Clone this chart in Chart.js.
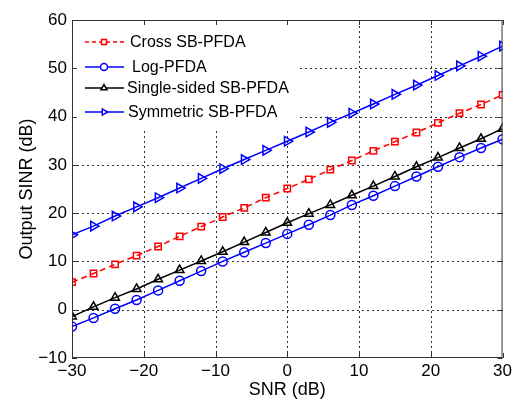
<!DOCTYPE html>
<html>
<head>
<meta charset="utf-8">
<script src="https://cdn.jsdelivr.net/npm/chart.js@4"></script>
<style>
  body { margin: 0; background: #fff; }
  canvas { display: block; }
</style>
</head>
<body>
<canvas id="sinrChart" width="515" height="401"></canvas>
<script>
// SNR values (dB), one marker every 3 dB
const snr = [-30, -27, -24, -21, -18, -15, -12, -9, -6, -3, 0, 3, 6, 9, 12, 15, 18, 21, 24, 27, 30];

const crossSB = [5.7, 7.5, 9.4, 11.2, 13.1, 15.2, 17.2, 19.2, 21.1, 23.2, 25.1, 27.0, 29.0, 30.9, 32.9, 34.8, 36.7, 38.7, 40.7, 42.5, 44.5];
const logPFDA = [-3.5, -1.7, 0.2, 2.0, 4.0, 6.0, 8.0, 10.0, 11.9, 13.8, 15.7, 17.6, 19.6, 21.7, 23.6, 25.6, 27.6, 29.6, 31.6, 33.5, 35.3];
const singleSB = [-1.4, 0.6, 2.5, 4.3, 6.3, 8.2, 10.1, 12.0, 14.0, 16.0, 18.0, 19.9, 21.7, 23.7, 25.6, 27.6, 29.6, 31.5, 33.5, 35.4, 37.5];
const symmetricSB = [15.5, 17.3, 19.4, 21.3, 23.2, 25.2, 27.2, 29.2, 31.1, 33.0, 34.9, 36.8, 38.8, 40.7, 42.6, 44.6, 46.5, 48.5, 50.5, 52.5, 54.6];

const xTicks = [-30, -20, -10, 0, 10, 20, 30];
const yTicks = [-10, 0, 10, 20, 30, 40, 50, 60];

const FONT = '"Liberation Sans", Arial, sans-serif';

function toPoints(ys) {
  return ys.map((y, i) => ({ x: snr[i], y }));
}

const series = [
  { label: 'Cross SB-PFDA', data: crossSB, color: '#ff0000', style: 'rect', rot: 0, dash: [6, 4], r: 4.5 },
  { label: 'Log-PFDA', data: logPFDA, color: '#0000ff', style: 'circle', rot: 0, dash: [], r: 4.5 },
  { label: 'Single-sided SB-PFDA', data: singleSB, color: '#000000', style: 'triangle', rot: 0, dash: [], r: 5 },
  { label: 'Symmetric SB-PFDA', data: symmetricSB, color: '#0000ff', style: 'triangle', rot: 90, dash: [], r: 5.5 }
];

// dotted grid (skipping the legend box), box frame, inward ticks, legend entries
const framePlugin = {
  id: 'frame',
  beforeDatasetsDraw(chart) {
    const { ctx, chartArea: a, scales } = chart;
    const legR = 300, legB = 128;
    ctx.save();
    ctx.strokeStyle = '#333';
    ctx.lineWidth = 1;
    ctx.setLineDash([2, 3]);
    ctx.beginPath();
    xTicks.slice(1, -1).forEach(v => {
      const px = Math.round(scales.x.getPixelForValue(v)) + 0.5;
      ctx.moveTo(px, a.bottom);
      ctx.lineTo(px, px < legR ? legB : a.top);
    });
    yTicks.slice(1, -1).forEach(v => {
      const py = Math.round(scales.y.getPixelForValue(v)) + 0.5;
      ctx.moveTo(py < legB ? legR : a.left, py);
      ctx.lineTo(a.right, py);
    });
    ctx.stroke();
    ctx.restore();
  },
  afterDraw(chart) {
    const { ctx, chartArea: a, scales } = chart;
    ctx.save();
    ctx.strokeStyle = '#333';
    ctx.lineWidth = 1;
    ctx.strokeRect(a.left + 0.5, a.top + 0.5, a.right - a.left - 1, a.bottom - a.top - 1);
    ctx.beginPath();
    xTicks.forEach(v => {
      const px = Math.round(scales.x.getPixelForValue(v)) + 0.5;
      ctx.moveTo(px, a.bottom); ctx.lineTo(px, a.bottom - 5);
      ctx.moveTo(px, a.top); ctx.lineTo(px, a.top + 5);
    });
    yTicks.forEach(v => {
      const py = Math.round(scales.y.getPixelForValue(v)) + 0.5;
      ctx.moveTo(a.left, py); ctx.lineTo(a.left + 5, py);
      ctx.moveTo(a.right, py); ctx.lineTo(a.right - 5, py);
    });
    ctx.stroke();

    // legend
    const rows = [42, 67, 88, 112];
    const textX = [130, 132, 127, 128];
    ctx.font = '16px ' + FONT;
    ctx.textBaseline = 'middle';
    series.forEach((s, i) => {
      const y = rows[i];
      ctx.strokeStyle = s.color;
      ctx.lineWidth = 1.5;
      ctx.setLineDash(s.dash.length ? [4, 3] : []);
      ctx.beginPath();
      ctx.moveTo(85, y); ctx.lineTo(124, y);
      ctx.stroke();
      ctx.setLineDash([]);
      ctx.fillStyle = '#fff';
      Chart.helpers.drawPoint(ctx, { pointStyle: s.style, radius: 3.5, rotation: s.rot, borderWidth: 1.5 }, 104, y);
      ctx.fillStyle = '#000';
      ctx.fillText(s.label, textX[i], y + 1);
    });
    ctx.restore();
  }
};

new Chart(document.getElementById('sinrChart'), {
  type: 'line',
  data: {
    datasets: series.map(s => ({
      label: s.label,
      data: toPoints(s.data),
      borderColor: s.color,
      borderWidth: 1.5,
      borderDash: s.dash,
      pointStyle: s.style,
      pointRotation: s.rot,
      pointRadius: s.r,
      pointBorderColor: s.color,
      pointBackgroundColor: 'rgba(0,0,0,0)',
      pointBorderWidth: 1.5,
      tension: 0
    }))
  },
  options: {
    responsive: false,
    animation: false,
    layout: { padding: { top: 20, right: 9, left: 16, bottom: 0 } },
    plugins: { legend: { display: false }, tooltip: { enabled: false } },
    scales: {
      x: {
        type: 'linear',
        min: -30, max: 30,
        afterBuildTicks: s => { s.ticks = xTicks.map(v => ({ value: v })); },
        afterFit: s => { s.height = 43; },
        ticks: { color: '#000', font: { family: FONT, size: 17 }, padding: 3, maxRotation: 0,
          callback: v => String(v).replace('-', '\u2212') },
        grid: { display: false, drawTicks: false },
        border: { display: false },
        title: { display: true, text: 'SNR (dB)', color: '#000', font: { family: FONT, size: 18 }, padding: { top: 0, bottom: 0 } }
      },
      y: {
        type: 'linear',
        min: -10, max: 60,
        afterBuildTicks: s => { s.ticks = yTicks.map(v => ({ value: v })); },
        afterFit: s => { s.width = 56; },
        ticks: { color: '#000', font: { family: FONT, size: 17 }, padding: 5,
          callback: v => String(v).replace('-', '\u2212') },
        grid: { display: false, drawTicks: false },
        border: { display: false },
        title: { display: true, text: 'Output SINR (dB)', color: '#000', font: { family: FONT, size: 18 }, padding: { top: 0, bottom: 0 } }
      }
    }
  },
  plugins: [framePlugin]
});
</script>
</body>
</html>
